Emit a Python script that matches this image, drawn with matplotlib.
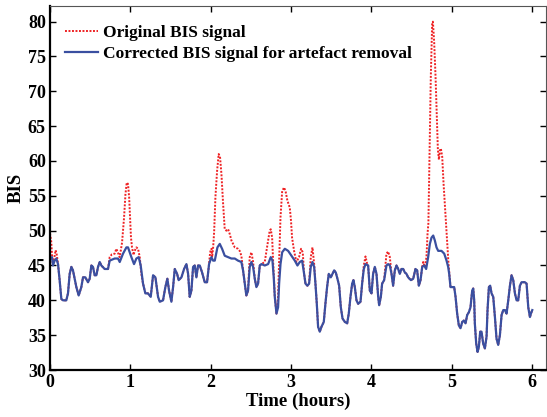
import numpy as np
import matplotlib
matplotlib.use("Agg")
import matplotlib.pyplot as plt

# corrected BIS signal (blue), time in hours
t_corr = [0.0, 0.025, 0.037, 0.058, 0.079, 0.10, 0.12, 0.141, 0.162, 0.203,
          0.224, 0.245, 0.266, 0.286, 0.328, 0.357, 0.39, 0.411, 0.44, 0.473,
          0.494, 0.515, 0.535, 0.556, 0.577, 0.598, 0.619, 0.639, 0.681, 0.722,
          0.743, 0.805, 0.847, 0.868, 0.909, 0.951, 0.971, 1.013, 1.046, 1.075,
          1.104, 1.129, 1.158, 1.187, 1.22, 1.254, 1.283, 1.312, 1.345, 1.366,
          1.407, 1.436, 1.461, 1.482, 1.511, 1.532, 1.553, 1.582, 1.602, 1.636,
          1.669, 1.698, 1.719, 1.739, 1.76, 1.781, 1.802, 1.822, 1.843, 1.864,
          1.893, 1.926, 1.955, 1.98, 2.009, 2.03, 2.051, 2.084, 2.113, 2.142,
          2.175, 2.217, 2.258, 2.3, 2.34, 2.382, 2.403, 2.424, 2.444, 2.465,
          2.486, 2.507, 2.528, 2.549, 2.569, 2.59, 2.611, 2.632, 2.673, 2.715,
          2.748, 2.769, 2.785, 2.798, 2.819, 2.839, 2.852, 2.869, 2.89, 2.923,
          2.964, 3.005, 3.047, 3.08, 3.109, 3.138, 3.163, 3.18, 3.204, 3.225,
          3.246, 3.267, 3.288, 3.304, 3.321, 3.337, 3.358, 3.379, 3.408, 3.428,
          3.449, 3.47, 3.495, 3.516, 3.537, 3.557, 3.578, 3.599, 3.62, 3.641,
          3.67, 3.699, 3.719, 3.74, 3.761, 3.777, 3.794, 3.815, 3.836, 3.865,
          3.885, 3.906, 3.927, 3.96, 3.981, 4.002, 4.022, 4.043, 4.064, 4.085,
          4.097, 4.118, 4.134, 4.159, 4.188, 4.209, 4.23, 4.251, 4.271, 4.292,
          4.313, 4.334, 4.354, 4.375, 4.396, 4.417, 4.437, 4.458, 4.492, 4.521,
          4.549, 4.57, 4.591, 4.612, 4.633, 4.658, 4.682, 4.707, 4.728, 4.749,
          4.77, 4.79, 4.811, 4.832, 4.873, 4.907, 4.936, 4.956, 4.969, 4.985,
          5.006, 5.031, 5.048, 5.068, 5.089, 5.11, 5.131, 5.151, 5.172, 5.193,
          5.214, 5.234, 5.255, 5.268, 5.28, 5.288, 5.305, 5.322, 5.338, 5.355,
          5.371, 5.392, 5.413, 5.434, 5.446, 5.463, 5.479, 5.496, 5.517, 5.538,
          5.558, 5.579, 5.6, 5.621, 5.642, 5.662, 5.683, 5.704, 5.725, 5.745,
          5.766, 5.787, 5.808, 5.828, 5.849, 5.87, 5.891, 5.911, 5.932, 5.953,
          5.974, 5.986, 6.003]
bis_corr = [46.0, 46.2, 45.0, 45.7, 46.0, 45.2, 42.9, 40.2, 40.0, 40.0,
            41.0, 43.8, 44.8, 44.3, 41.9, 40.7, 41.9, 43.3, 43.3, 42.6,
            43.1, 45.0, 44.8, 43.6, 43.6, 44.8, 45.5, 45.0, 44.5, 44.5,
            45.7, 46.0, 46.0, 45.5, 46.7, 47.6, 47.6, 46.2, 45.2, 46.0,
            46.2, 45.0, 42.4, 41.0, 41.0, 40.5, 43.6, 43.3, 40.5, 39.8,
            40.0, 41.9, 43.1, 41.4, 39.8, 41.9, 44.5, 43.8, 42.9, 43.3,
            44.5, 45.2, 43.8, 40.5, 41.4, 44.8, 45.0, 43.3, 45.0, 45.0,
            44.0, 42.6, 42.6, 45.2, 46.2, 45.7, 45.7, 47.6, 48.1, 47.4,
            46.4, 46.2, 46.0, 46.0, 45.7, 45.5, 44.3, 42.4, 40.7, 41.4,
            44.8, 45.5, 44.8, 43.1, 41.9, 42.4, 45.0, 45.2, 45.0, 45.2,
            46.2, 45.7, 43.3, 40.5, 38.1, 39.0, 42.4, 45.2, 46.9, 47.4,
            47.1, 46.4, 45.7, 45.0, 45.5, 45.7, 43.8, 42.4, 42.1, 42.4,
            44.8, 45.5, 44.8, 42.4, 39.5, 36.2, 35.5, 36.2, 36.9, 39.5,
            41.9, 43.8, 43.3, 43.8, 44.3, 44.0, 43.1, 42.1, 39.0, 37.4,
            36.9, 36.7, 38.1, 40.5, 42.4, 42.9, 41.9, 40.0, 39.5, 39.8,
            42.4, 44.5, 45.2, 45.0, 41.4, 41.0, 43.8, 44.8, 43.8, 40.5,
            39.3, 40.5, 42.4, 42.9, 45.0, 45.2, 45.0, 43.8, 42.1, 44.3,
            45.0, 44.5, 43.8, 44.5, 44.5, 44.0, 43.8, 43.3, 42.9, 43.1,
            44.5, 44.3, 42.1, 42.9, 44.8, 45.0, 44.5, 46.2, 48.1, 49.0,
            49.3, 48.6, 47.6, 47.1, 47.1, 46.7, 45.7, 44.8, 43.8, 41.9,
            41.9, 41.9, 40.5, 38.1, 36.4, 36.0, 36.9, 37.1, 36.7, 37.9,
            38.3, 39.0, 41.4, 41.7, 40.0, 36.7, 33.8, 32.6, 33.3, 35.5,
            35.5, 33.8, 33.1, 34.8, 38.6, 41.9, 42.1, 41.0, 40.5, 37.6,
            34.5, 33.6, 35.0, 37.9, 38.6, 38.6, 38.1, 40.0, 42.1, 43.6,
            42.9, 41.0, 40.0, 40.0, 42.1, 42.6, 42.6, 42.6, 42.4, 39.0,
            37.6, 38.1, 38.6]

# original signal where it differs from the corrected one (artefact segments)
art_start_t = [0.0, 0.015, 0.03, 0.045, 0.07, 0.085, 0.10]
art_start_v = [49.6, 48.5, 45.5, 45.5, 47.2, 46.5, 45.2]

art1_t = [0.722, 0.743, 0.77, 0.805, 0.826, 0.847, 0.868, 0.897, 0.922, 0.939,
          0.955, 0.971, 0.985, 0.997, 1.008, 1.021, 1.04, 1.054, 1.075, 1.096,
          1.117, 1.137]
art1_v = [44.5, 46.2, 46.6, 46.7, 47.4, 46.8, 46.2, 48.3, 51.9, 55.2,
          56.9, 56.7, 54.8, 51.9, 49.0, 47.6, 46.5, 47.1, 47.6, 47.4,
          46.2, 43.8]

art2_t = [1.98, 1.99, 2.0, 2.01, 2.018, 2.03, 2.043, 2.059, 2.08, 2.1,
          2.117, 2.134, 2.155, 2.175, 2.196, 2.217, 2.238, 2.258, 2.3, 2.34,
          2.361, 2.382, 2.403]
art2_v = [45.2, 46.5, 47.3, 47.4, 46.2, 47.5, 49.8, 54.8, 58.6, 61.0,
          60.5, 58.1, 53.8, 50.2, 50.0, 50.2, 49.5, 48.6, 47.6, 47.4,
          47.1, 46.4, 44.3]

art3_t = [2.486, 2.507, 2.528]
art3_v = [46.2, 46.9, 45.5]

art4_t = [2.673, 2.694, 2.715, 2.735, 2.748, 2.765, 2.777, 2.798]
art4_v = [45.5, 47.1, 48.6, 50.0, 50.2, 49.0, 45.7, 40.5]

art5_t = [2.839, 2.852, 2.869, 2.89, 2.914, 2.935, 2.955, 2.985, 3.0, 3.013,
          3.038, 3.067, 3.1, 3.125, 3.146, 3.163]
art5_v = [40.5, 45.7, 51.9, 55.7, 56.2, 55.5, 54.3, 53.3, 51.4, 49.0,
          47.1, 45.5, 46.2, 47.4, 46.9, 43.8]

art6_t = [3.246, 3.267, 3.288]
art6_v = [46.2, 47.6, 45.2]

art7_t = [3.906, 3.927, 3.948]
art7_v = [45.0, 46.3, 45.2]

art8_t = [4.188, 4.209, 4.23]
art8_v = [46.7, 47.0, 46.2]

art9_t = [4.645, 4.666, 4.686, 4.699, 4.71, 4.723, 4.74, 4.757, 4.766, 4.782,
          4.799, 4.815, 4.828, 4.841, 4.853, 4.865, 4.882, 4.898, 4.919, 4.94,
          4.96, 4.981]
art9_v = [45.5, 44.8, 46.2, 49.5, 51.1, 60.2, 72.1, 79.8, 80.0, 77.0,
          72.1, 66.4, 61.6, 60.2, 61.5, 61.8, 60.6, 56.9, 53.0, 49.1,
          45.3, 42.5]

segments = [(art_start_t, art_start_v), (art1_t, art1_v), (art2_t, art2_v),
            (art3_t, art3_v), (art4_t, art4_v), (art5_t, art5_v),
            (art6_t, art6_v), (art7_t, art7_v), (art8_t, art8_v),
            (art9_t, art9_v)]

# build original signal: corrected values outside artefacts + artefact values
tc = np.array(t_corr)
vc = np.array(bis_corr)
keep = np.ones(len(tc), dtype=bool)
for st, sv in segments:
    keep &= ~((tc >= st[0]) & (tc <= st[-1]))
t_orig = np.concatenate([tc[keep]] + [np.array(st) for st, sv in segments])
v_orig = np.concatenate([vc[keep]] + [np.array(sv) for st, sv in segments])
order = np.argsort(t_orig)
t_orig = t_orig[order]
v_orig = v_orig[order]

plt.rcParams['font.family'] = ['Liberation Serif', 'DejaVu Serif']
plt.rcParams['font.weight'] = 'bold'

fig = plt.figure(figsize=(5.47, 4.17), dpi=100)
ax = fig.add_axes([0.0914, 0.1127, 0.9068, 0.873])

ax.plot(t_orig, v_orig, color='#EE2224', linestyle=(0, (1, 0.8)), linewidth=1.4,
        label='Original BIS signal')
ax.plot(tc, vc, color='#3A4FA0', linestyle='-', linewidth=1.6,
        label='Corrected BIS signal for artefact removal')

ax.set_xlim(0, 6.174)
ax.set_ylim(30, 82.25)
ax.set_xticks(range(0, 7))
ax.set_yticks(range(30, 81, 5))
ax.tick_params(direction='in', length=4, width=1, top=True, right=True,
               labelsize=13, pad=3)
for lab in ax.get_xticklabels() + ax.get_yticklabels():
    lab.set_fontweight('bold')
for side in ['left', 'bottom']:
    ax.spines[side].set_linewidth(1.6)
for side in ['top', 'right']:
    ax.spines[side].set_linewidth(0.8)
    ax.spines[side].set_color('#555555')

ax.set_xlabel('Time (hours)', fontsize=13.5, fontweight='bold', labelpad=1)
ax.set_ylabel('BIS', fontsize=13.5, fontweight='bold', labelpad=2)

ax.legend(loc='upper left', frameon=False, handlelength=1.9,
          handletextpad=0.3, labelspacing=0.25, borderaxespad=0.0,
          bbox_to_anchor=(0.016, 0.966), prop={'weight': 'bold', 'size': 12.5})

fig.savefig('out.png', dpi=100)
